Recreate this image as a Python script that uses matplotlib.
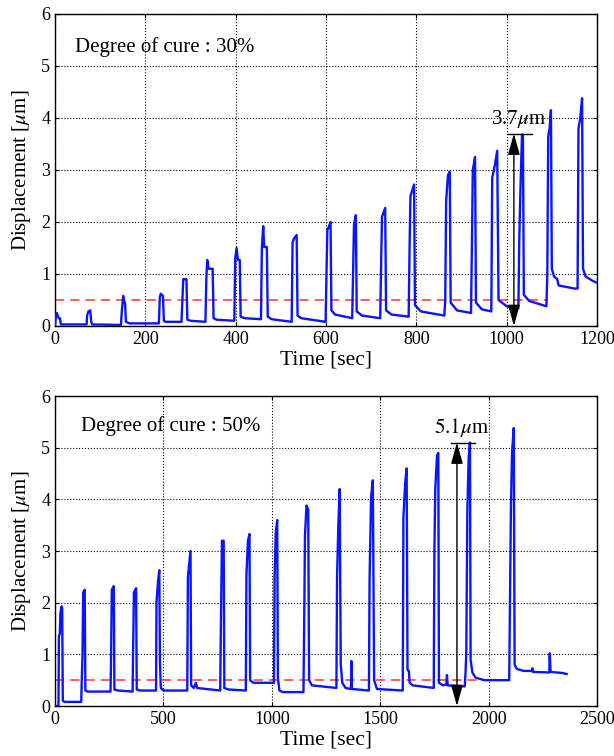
import numpy as np
import matplotlib
matplotlib.use('Agg')
import matplotlib.pyplot as plt

plt.rcParams['font.family'] = ['Liberation Serif', 'DejaVu Serif']
plt.rcParams['mathtext.fontset'] = 'stix'

######################################################################
######### Data (time [sec], displacement [um])
######################################################################
t30 = [0, 2, 4, 6, 8, 11, 13,
       70, 71, 74, 78, 80, 82,
       146, 148, 151, 153, 155, 157, 165,
       230, 232, 234, 239, 241, 245,
       280, 282, 284, 291, 293, 300,
       333, 335, 337, 340, 349, 351, 358,
       397, 399, 402, 405, 409, 411, 420,
       456, 458, 461, 463, 469, 471, 480,
       524, 526, 529, 535, 537, 545,
       599, 601, 603, 606, 610, 612, 620,
       658, 660, 662, 666, 668, 680,
       720, 722, 724, 731, 733, 745,
       783, 785, 787, 795, 797, 810,
       862, 864, 866, 870, 874, 876, 890,
       921, 923, 925, 930, 932, 945,
       966, 968, 974, 979, 982, 1000,
       1026, 1028, 1031, 1034, 1036, 1038, 1050,
       1088, 1090, 1092, 1095, 1098, 1100, 1105, 1112, 1115, 1150,
       1157, 1159, 1163, 1167, 1169, 1175, 1190, 1200]
d30 = [0.0, 0.2, 0.25, 0.2, 0.15, 0.15, 0.03,
       0.03, 0.2, 0.28, 0.3, 0.1, 0.03,
       0.02, 0.3, 0.58, 0.45, 0.45, 0.08, 0.05,
       0.05, 0.55, 0.62, 0.58, 0.1, 0.08,
       0.08, 0.5, 0.9, 0.9, 0.12, 0.1,
       0.08, 0.9, 1.27, 1.1, 1.1, 0.15, 0.12,
       0.1, 1.3, 1.5, 1.27, 1.27, 0.18, 0.15,
       0.13, 1.5, 1.92, 1.52, 1.52, 0.18, 0.13,
       0.08, 1.6, 1.68, 1.75, 0.2, 0.15,
       0.08, 1.0, 1.85, 1.9, 2.0, 0.3, 0.22,
       0.15, 1.0, 1.95, 2.13, 0.28, 0.2,
       0.15, 1.2, 2.1, 2.27, 0.3, 0.22,
       0.18, 1.5, 2.5, 2.72, 0.4, 0.28,
       0.2, 0.5, 2.4, 2.9, 2.97, 0.45, 0.3,
       0.25, 1.5, 3.0, 3.25, 0.45, 0.32,
       0.28, 2.85, 3.1, 3.37, 0.5, 0.38,
       0.34, 1.7, 2.8, 3.68, 3.68, 0.6, 0.48,
       0.38, 1.0, 3.65, 3.8, 4.15, 1.1, 0.95, 0.9, 0.78, 0.72,
       0.72, 3.8, 4.0, 4.38, 1.1, 0.95, 0.87, 0.83]

t50 = [0, 16, 18, 22, 25, 30, 33, 36, 45,
       121, 123, 127, 130, 137, 140, 150,
       256, 258, 262, 271, 274, 290,
       358, 360, 364, 374, 377, 390,
       466, 468, 475, 481, 484, 488, 500,
       610, 613, 620, 625, 628, 640, 650, 655,
       762, 765, 770, 778, 781, 800,
       880, 883, 890, 897, 900, 915,
       1010, 1013, 1018, 1025, 1028, 1035, 1050,
       1146, 1149, 1153, 1160, 1168, 1172, 1185,
       1298, 1301, 1307, 1313, 1318, 1325, 1340, 1365, 1367, 1369,
       1448, 1451, 1458, 1466, 1472, 1485,
       1604, 1607, 1615, 1622, 1626, 1632, 1636, 1650,
       1747, 1750, 1754, 1762, 1768, 1771, 1790, 1805, 1808, 1811,
       1890, 1893, 1897, 1902, 1908, 1914, 1917, 1925, 1940, 1980,
       2095, 2098, 2103, 2108, 2116, 2120, 2130, 2160, 2200, 2202, 2204,
       2280, 2282, 2286, 2340, 2360]
d50 = [0.0, 0.0, 1.35, 1.4, 1.8, 1.93, 1.9, 0.1, 0.08,
       0.08, 0.45, 1.0, 2.2, 2.25, 0.3, 0.28,
       0.28, 0.75, 2.25, 2.32, 0.32, 0.3,
       0.28, 1.0, 2.2, 2.28, 0.32, 0.3,
       0.3, 2.0, 2.4, 2.63, 0.85, 0.35, 0.3,
       0.3, 2.5, 2.8, 3.0, 0.4, 0.35, 0.45, 0.35,
       0.3, 1.5, 3.2, 3.2, 0.35, 0.32,
       0.3, 2.55, 3.2, 3.33, 0.5, 0.45,
       0.45, 2.5, 3.35, 3.6, 0.55, 0.3, 0.27,
       0.27, 1.45, 3.3, 3.88, 3.8, 0.5, 0.4,
       0.35, 2.5, 3.5, 4.2, 0.8, 0.45, 0.35, 0.33, 0.87, 0.33,
       0.3, 2.45, 4.05, 4.37, 0.5, 0.33,
       0.3, 3.65, 4.3, 4.6, 0.7, 0.68, 0.45, 0.4,
       0.35, 3.0, 4.2, 4.85, 4.9, 0.45, 0.4, 0.42, 0.6, 0.4,
       0.38, 0.6, 1.0, 3.8, 4.8, 5.1, 0.9, 0.65, 0.55, 0.5,
       0.5, 1.8, 3.85, 4.9, 5.38, 0.8, 0.72, 0.68, 0.68, 0.73, 0.66,
       0.65, 1.02, 0.66, 0.64, 0.62]

labels = ['Degree of cure : 30%', 'Degree of cure : 50%']
xmax = [1200, 2500]
xticks = [np.arange(0, 1201, 200), np.arange(0, 2501, 500)]
thresh = 0.5
red_end = [1092, 1967]
arrow_t = [1016, 1854]
arrow_d = [3.7, 5.1]
arrow_txt = [r'3.7$\mu$m', r'$\mathit{5.1}\mu$m']
bar_half = [26, 54]
label_pos = [(44, 5.37), (120, 5.42)]

######################################################################
fig = plt.figure(figsize=(6.14, 7.56), dpi=100)
ax1 = fig.add_axes([0.0896, 0.5688, 0.8827, 0.4127])
ax2 = fig.add_axes([0.0896, 0.0661, 0.8827, 0.4100])

for i, (ax, t, d) in enumerate([(ax1, t30, d30), (ax2, t50, d50)]):
    ax.plot([0, red_end[i]], [thresh, thresh], color='#ff3030', ls=(0, (6, 4)), lw=1.1, zorder=2)
    ax.plot(t, d, color='#0a14ff', lw=1.7, zorder=3)

    # double arrow + bar + value text
    ax.annotate('', xy=(arrow_t[i], arrow_d[i]), xytext=(arrow_t[i], 0),
                arrowprops=dict(arrowstyle='<|-|>,head_length=1.0,head_width=0.28',
                                color='k', lw=1.0, mutation_scale=13,
                                shrinkA=0, shrinkB=0), zorder=4)
    ax.plot([arrow_t[i] - bar_half[i] * 0.5, arrow_t[i] + bar_half[i] * 1.5],
            [arrow_d[i], arrow_d[i]], color='k', lw=1.0, zorder=4)
    ax.text(arrow_t[i] + bar_half[i] * 0.4, arrow_d[i] + 0.06, arrow_txt[i],
            ha='center', va='bottom', fontsize=15)

    ax.text(label_pos[i][0], label_pos[i][1], labels[i], ha='left', va='center', fontsize=15)

    ax.set_xlim(0, xmax[i])
    ax.set_ylim(0, 6)
    ax.set_xticks(xticks[i])
    ax.set_yticks(range(7))
    ax.grid(True, color='k', ls=':', lw=0.8)
    ax.tick_params(direction='in', length=3, labelsize=13, top=True, right=True)
    ax.set_xlabel('Time [sec]', fontsize=15.5, labelpad=2)
    ax.set_ylabel(r'Displacement [$\mu$m]', fontsize=15, labelpad=6)
    for s in ax.spines.values():
        s.set_linewidth(1.0)

plt.savefig('out.png', dpi=100)
